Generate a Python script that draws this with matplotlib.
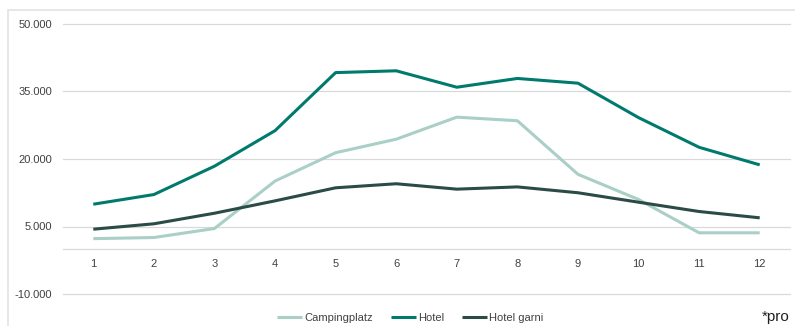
import matplotlib
matplotlib.use("Agg")
import matplotlib.pyplot as plt
from matplotlib.patches import Rectangle
from matplotlib.ticker import FuncFormatter

plt.rcParams['font.family'] = ['Liberation Sans', 'DejaVu Sans']

months = [1, 2, 3, 4, 5, 6, 7, 8, 9, 10, 11, 12]
campingplatz = [2300, 2550, 4550, 15100, 21400, 24400, 29300, 28500, 16600, 11000, 3600, 3600]
hotel = [9950, 12100, 18400, 26300, 39200, 39600, 35950, 37900, 36850, 29200, 22600, 18700]
hotel_garni = [4400, 5600, 7950, 10700, 13600, 14500, 13300, 13800, 12500, 10400, 8330, 6930]
series_names = ['Campingplatz', 'Hotel', 'Hotel garni']
yticks = [-10000, 5000, 20000, 35000, 50000]

W, H = 795, 326
fig = plt.figure(figsize=(W / 100, H / 100), dpi=100)

# outer frame
fig.patches.append(Rectangle((8 / W, -0.1), 1.2, (1 - 10 / H) + 0.1, transform=fig.transFigure,
                             fill=False, edgecolor='#e3e3e3', linewidth=1.2, zorder=0))

ax = fig.add_axes([63 / W, 1 - 294 / H, (790 - 63) / W, (294 - 24) / H])
ax.patch.set_alpha(0)
colors = ['#a9cfc7', '#007a6d', '#2b4b47']
for vals, name, c in zip([campingplatz, hotel, hotel_garni], series_names, colors):
    ax.plot(months, vals, color=c, linewidth=2.2, label=name, solid_capstyle='butt', zorder=3)

ax.set_xlim(0.5, 12.5)
ax.set_ylim(-10000, 50000)
ax.set_yticks(yticks)
ax.yaxis.set_major_formatter(FuncFormatter(lambda v, p: f"{int(v):,}".replace(',', '.')))
ax.set_xticks(months)
ax.grid(axis='y', color='#d9d9d9', linewidth=0.9)
for gl in ax.get_ygridlines():
    gl.set_clip_on(False)
ax.set_axisbelow(True)
for s in ['top', 'right', 'left']:
    ax.spines[s].set_visible(False)
ax.spines['bottom'].set_position(('data', 0))
ax.spines['bottom'].set_color('#d9d9d9')
ax.spines['bottom'].set_linewidth(0.9)
ax.tick_params(axis='both', length=0, labelsize=8, colors='#404040', labelcolor='#404040')
ax.tick_params(axis='y', pad=8)
ax.tick_params(axis='x', pad=7)

leg = fig.legend(loc='center', bbox_to_anchor=(410 / W, 1 - 318 / H), ncol=3, frameon=False,
                 fontsize=8, handlelength=2.3, handletextpad=0.15, columnspacing=1.6,
                 labelcolor='#404040')

fig.text(762 / W, 1 - 317 / H, '*pro', fontsize=11, ha='left', va='center', color='#202020')

fig.savefig('out.png', dpi=100)
